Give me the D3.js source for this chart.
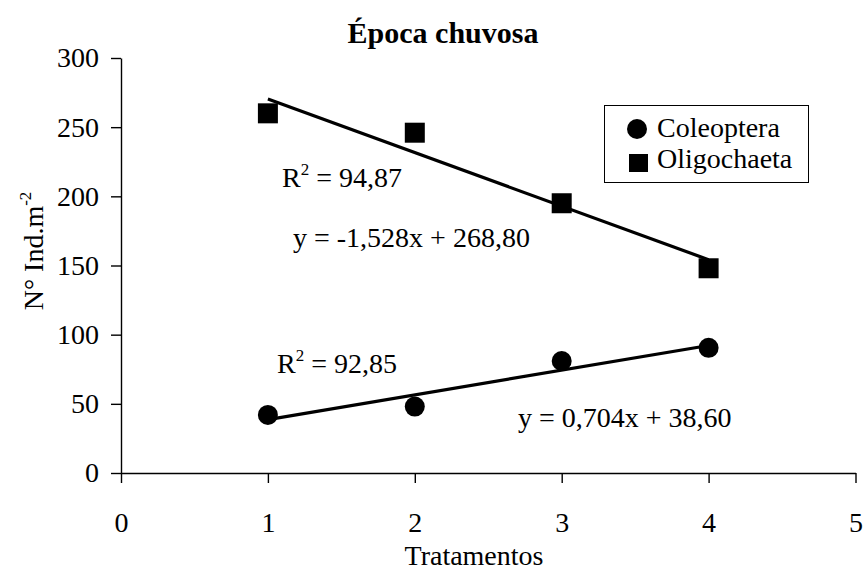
<!DOCTYPE html>
<html><head><meta charset="utf-8">
<script src="https://cdn.jsdelivr.net/npm/d3@7"></script>
<style>body{margin:0;background:#fff}svg{display:block}text{font-family:"Liberation Serif","Times New Roman",serif;fill:#000}</style>
</head><body>
<script>
const tratamentos = [1, 2, 3, 4];
const coleoptera = [42, 48, 81, 90.5];
const oligochaeta = [260, 246, 195, 148];
const xTicks = [0, 1, 2, 3, 4, 5];
const yTicks = [0, 50, 100, 150, 200, 250, 300];
const seriesNames = ["Coleoptera", "Oligochaeta"];
const r2Labels = ["92,85", "94,87"];
const eqLabels = ["y = 0,704x + 38,60", "y = -1,528x + 268,80"];

const W = 864, H = 573, FS = 28;
const svg = d3.select("body").append("svg").attr("width", W).attr("height", H);
const x = d3.scaleLinear().domain([0, 5]).range([121, 855.5]);
const y = d3.scaleLinear().domain([0, 300]).range([473, 58]);

function fit(xs, ys) {
  const mx = d3.mean(xs), my = d3.mean(ys);
  const b = d3.sum(xs, (v, i) => (v - mx) * (ys[i] - my)) / d3.sum(xs, v => (v - mx) ** 2);
  return v => my + b * (v - mx);
}

// axes
const gy = svg.append("g").attr("transform", `translate(${x(0)},0)`)
  .call(d3.axisLeft(y).tickValues(yTicks).tickFormat(d3.format("d")).tickSize(10).tickSizeOuter(0).tickPadding(12));
const gx = svg.append("g").attr("transform", `translate(0,${y(0)})`)
  .call(d3.axisBottom(x).tickValues(xTicks).tickFormat(d3.format("d")).tickSize(10).tickSizeOuter(0).tickPadding(29));
[gx, gy].forEach(g => {
  g.selectAll("path,line").attr("stroke", "#000").attr("stroke-width", 1.4);
  g.selectAll("text").attr("font-size", FS).attr("font-family", '"Liberation Serif","Times New Roman",serif').attr("fill", "#000");
});

// trend lines
const data = [coleoptera, oligochaeta];
data.forEach(vals => {
  const f = fit(tratamentos, vals);
  const x0 = d3.min(tratamentos), x1 = d3.max(tratamentos);
  svg.append("line").attr("x1", x(x0)).attr("y1", y(f(x0))).attr("x2", x(x1)).attr("y2", y(f(x1)))
    .attr("stroke", "#000").attr("stroke-width", 3.2);
});

// markers
svg.selectAll("circle.c").data(tratamentos).enter().append("circle")
  .attr("cx", d => x(d)).attr("cy", (d, i) => y(coleoptera[i])).attr("r", 10).attr("fill", "#000");
svg.selectAll("rect.o").data(tratamentos).enter().append("rect")
  .attr("x", d => x(d) - 10).attr("y", (d, i) => y(oligochaeta[i]) - 10).attr("width", 20).attr("height", 20).attr("fill", "#000");

// annotations
function r2(xp, yp, val) {
  const t = svg.append("text").attr("x", xp).attr("y", yp).attr("font-size", FS);
  t.append("tspan").text("R");
  t.append("tspan").attr("font-size", 17).attr("dy", -12).text("2");
  t.append("tspan").attr("dy", 12).text(" = " + val);
}
r2(282, 187, r2Labels[1]);
svg.append("text").attr("x", 293).attr("y", 247).attr("font-size", FS).text(eqLabels[1]);
r2(277, 373, r2Labels[0]);
svg.append("text").attr("x", 518).attr("y", 427).attr("font-size", FS).text(eqLabels[0]);

// title
svg.append("text").attr("x", 443).attr("y", 43).attr("text-anchor", "middle")
  .attr("font-size", 30).attr("font-weight", "bold").text("Época chuvosa");

// axis titles
svg.append("text").attr("x", 474).attr("y", 565).attr("text-anchor", "middle").attr("font-size", FS).text("Tratamentos");
const yl = svg.append("text").attr("transform", "translate(43,251) rotate(-90)").attr("text-anchor", "middle").attr("font-size", FS);
yl.append("tspan").text("N° Ind.m");
yl.append("tspan").attr("font-size", 17).attr("dy", -12).text("-2");

// legend
svg.append("rect").attr("x", 604.5).attr("y", 105.5).attr("width", 204).attr("height", 77)
  .attr("fill", "#fff").attr("stroke", "#000").attr("stroke-width", 1);
svg.append("circle").attr("cx", 637).attr("cy", 129).attr("r", 10).attr("fill", "#000");
svg.append("rect").attr("x", 629).attr("y", 154).attr("width", 19).attr("height", 18).attr("fill", "#000");
svg.append("text").attr("x", 657).attr("y", 137).attr("font-size", FS).text(seriesNames[0]);
svg.append("text").attr("x", 657).attr("y", 168).attr("font-size", FS).text(seriesNames[1]);
</script>
</body></html>
